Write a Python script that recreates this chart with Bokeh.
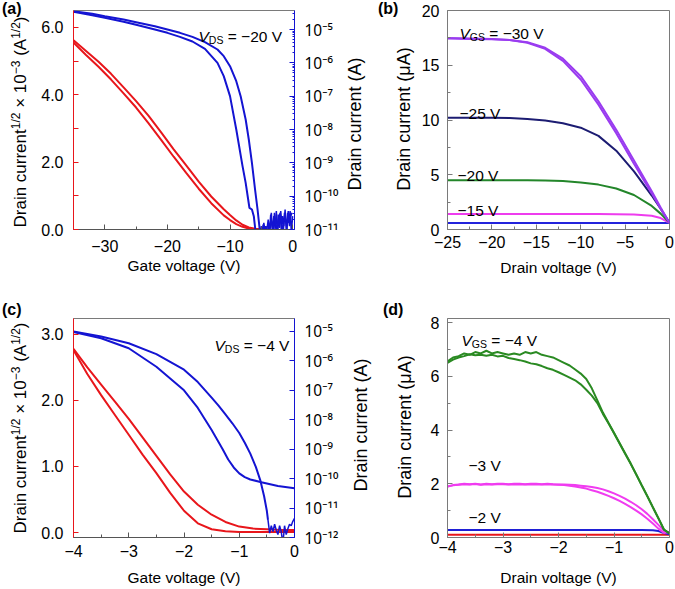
import math
import numpy as np
from bokeh.plotting import figure
from bokeh.layouts import column, row
from bokeh.models import Range1d, LogAxis, LogScale, FixedTicker, CustomJSTickFormatter, Label, Div
from bokeh.embed import file_html
from bokeh.resources import INLINE

FONT = "Liberation Sans"
RED = "#e8161b"
BLUE = "#1414d2"
GREY = "#7a7a7a"

# ---------------- data: panel (a) transfer, VDS = -20 V ----------------
vg_a_red = [-35, -33, -31, -29, -27, -25, -23, -21, -19, -17, -15, -13, -11, -10, -9, -8, -7, -6, -5]
sqrt_a_up = [5.62, 5.30, 4.98, 4.62, 4.22, 3.81, 3.37, 2.88, 2.38, 1.90, 1.42, 0.98, 0.60, 0.43, 0.27, 0.14, 0.06, 0.02, 0.01]
sqrt_a_dn = [5.55, 5.18, 4.83, 4.45, 4.04, 3.62, 3.15, 2.66, 2.16, 1.68, 1.21, 0.78, 0.42, 0.28, 0.16, 0.08, 0.03, 0.01, 0.00]

vg_a_out = [-35, -32, -30, -27, -25, -22, -20, -18, -16, -14, -12, -11, -10, -9, -8.3, -7.5, -7, -6.5, -6, -5.6, -5.2]
exp_a_out = [-4.45, -4.53, -4.60, -4.70, -4.78, -4.90, -5.00, -5.10, -5.22, -5.38, -5.60, -5.80, -6.10, -6.55, -7.00, -7.70, -8.30, -9.00, -9.80, -10.40, -11.10]
vg_a_in = [-35, -32, -30, -27, -25, -22, -20, -18, -16, -14, -12, -11, -10, -9, -8, -7.5, -7.1, -6.9, -6.5, -6.2, -5.9]
exp_a_in = [-4.47, -4.57, -4.65, -4.77, -4.86, -5.00, -5.10, -5.22, -5.36, -5.58, -6.00, -6.40, -7.00, -8.00, -9.10, -9.60, -10.10, -10.35, -10.40, -10.60, -11.10]

vg_a_noise1 = [-5.2, -5.0, -4.8, -4.6, -4.4, -4.2, -4.0, -3.8, -3.6, -3.4, -3.2, -3.0, -2.8, -2.6, -2.4,
               -2.2, -2.0, -1.8, -1.6, -1.4, -1.2, -1.0, -0.8, -0.6, -0.4, -0.2, 0.0]
exp_a_noise1 = [-11.1, -10.9, -11.1, -10.8, -11.05, -10.95, -11.1, -10.9, -11.0, -10.5, -11.1, -10.6, -11.0, -10.45,
                -11.1, -10.7, -10.5, -11.05, -10.6, -10.9, -10.4, -11.1, -10.5, -10.8, -10.45, -11.1, -10.6]
vg_a_noise2 = [-5.1, -4.9, -4.7, -4.5, -4.3, -4.1, -3.9, -3.7, -3.5, -3.3, -3.1, -2.9, -2.7, -2.5, -2.3,
               -2.1, -1.9, -1.7, -1.5, -1.3, -1.1, -0.9, -0.7, -0.5, -0.3, -0.1]
exp_a_noise2 = [-11.0, -11.15, -10.85, -11.1, -10.9, -11.0, -10.7, -11.1, -10.55, -10.9, -11.1, -10.5, -10.8,
                -11.1, -10.55, -10.95, -10.45, -10.85, -11.1, -10.5, -10.75, -11.0, -10.45, -10.9, -10.6, -10.5]

# ---------------- data: panel (b) output, VGS = -30 ... -10 V ----------------
vd_b = [-25, -22.5, -20, -18, -16, -14, -12, -10, -8, -6, -4, -2, -1, 0]
id_b_30a = [17.5, 17.45, 17.4, 17.3, 17.05, 16.5, 15.4, 13.7, 11.4, 8.8, 6.0, 3.3, 1.9, 0.6]
id_b_30b = [17.45, 17.4, 17.38, 17.3, 17.1, 16.6, 15.6, 14.0, 11.7, 9.1, 6.3, 3.5, 2.0, 0.6]
id_b_25 = [10.2, 10.2, 10.2, 10.18, 10.1, 9.95, 9.7, 9.3, 8.55, 7.2, 5.3, 3.1, 1.9, 0.6]
id_b_20 = [4.5, 4.5, 4.5, 4.5, 4.5, 4.48, 4.42, 4.3, 4.1, 3.75, 3.15, 2.15, 1.45, 0.6]
id_b_15 = [1.42, 1.42, 1.42, 1.42, 1.42, 1.42, 1.42, 1.42, 1.41, 1.4, 1.37, 1.25, 1.05, 0.6]
id_b_10 = [0.6, 0.6, 0.6, 0.6, 0.6, 0.6, 0.6, 0.6, 0.6, 0.6, 0.6, 0.6, 0.6, 0.6]

# ---------------- data: panel (c) transfer, VDS = -4 V ----------------
vg_c_red = [-4.0, -3.75, -3.5, -3.25, -3.0, -2.75, -2.5, -2.25, -2.0, -1.75, -1.5, -1.25, -1.0, -0.75, -0.5, -0.25, 0.0]
sqrt_c_up = [2.78, 2.50, 2.24, 1.98, 1.72, 1.44, 1.16, 0.88, 0.62, 0.42, 0.27, 0.16, 0.09, 0.06, 0.05, 0.04, 0.04]
sqrt_c_dn = [2.76, 2.40, 2.08, 1.78, 1.48, 1.18, 0.90, 0.60, 0.33, 0.14, 0.05, 0.02, 0.01, 0.01, 0.01, 0.01, 0.01]

vg_c_steep = [-4.0, -3.5, -3.0, -2.5, -2.0, -1.75, -1.5, -1.375, -1.25, -1.125, -1.0, -0.9, -0.8, -0.7, -0.62, -0.55, -0.5, -0.48]
exp_c_steep = [-5.0, -5.17, -5.4, -5.77, -6.3, -6.72, -7.25, -7.52, -7.82, -8.12, -8.45, -8.78, -9.15, -9.6, -10.05, -10.6, -11.1, -11.4]
vg_c_noise = [-0.48, -0.45, -0.42, -0.39, -0.36, -0.33, -0.30, -0.27, -0.24, -0.21, -0.18, -0.15, -0.12, -0.09, -0.06, -0.03, 0.0]
exp_c_noise = [-11.4, -11.85, -11.6, -11.8, -11.55, -11.75, -11.9, -11.6, -11.8, -12.2, -11.6, -11.9, -11.7, -11.55, -11.6, -11.45, -11.35]
vg_c_plat = [-4.0, -3.5, -3.0, -2.5, -2.0, -1.75, -1.5, -1.3, -1.2, -1.1, -1.0, -0.9, -0.8, -0.6, -0.3, 0.0]
exp_c_plat = [-5.02, -5.23, -5.57, -6.2, -7.0, -7.6, -8.35, -9.0, -9.35, -9.62, -9.82, -9.95, -10.03, -10.12, -10.25, -10.33]

# ---------------- data: panel (d) output, VGS = -4 ... -1 V ----------------
vd_d = [-4.0, -3.9, -3.8, -3.7, -3.6, -3.5, -3.4, -3.3, -3.2, -3.1, -3.0, -2.9, -2.8, -2.7, -2.6, -2.5, -2.4, -2.3,
        -2.2, -2.1, -2.0, -1.9, -1.8, -1.7, -1.6, -1.5, -1.4, -1.3, -1.2, -1.1, -1.0, -0.9, -0.8, -0.7, -0.6, -0.5,
        -0.4, -0.3, -0.2, -0.1, 0.0]
id_d_4a = [6.55, 6.70, 6.75, 6.85, 6.80, 6.90, 6.85, 6.95, 6.85, 6.90, 6.85, 6.80, 6.85, 6.80, 6.90, 6.85, 6.90, 6.80,
           6.75, 6.70, 6.60, 6.50, 6.40, 6.25, 6.10, 5.90, 5.55, 5.10, 4.65, 4.27, 3.90, 3.52, 3.14, 2.76, 2.36, 1.95,
           1.55, 1.13, 0.72, 0.30, 0.15]
id_d_4b = [6.50, 6.62, 6.70, 6.75, 6.82, 6.78, 6.80, 6.76, 6.80, 6.74, 6.76, 6.68, 6.64, 6.60, 6.55, 6.48, 6.45, 6.38,
           6.30, 6.24, 6.15, 6.05, 5.95, 5.85, 5.70, 5.50, 5.28, 5.00, 4.60, 4.25, 3.88, 3.50, 3.12, 2.74, 2.34, 1.93,
           1.53, 1.12, 0.71, 0.29, 0.15]
id_d_3a = [1.90, 1.95, 1.97, 2.00, 1.98, 2.00, 1.97, 2.00, 1.98, 2.00, 2.00, 1.98, 2.00, 2.00, 1.98, 2.00, 2.00, 1.98,
           2.00, 1.98, 1.97, 1.97, 1.96, 1.95, 1.93, 1.91, 1.88, 1.84, 1.79, 1.72, 1.64, 1.55, 1.45, 1.33, 1.20, 1.05,
           0.88, 0.68, 0.47, 0.25, 0.18]
id_d_3b = [1.90, 1.94, 1.96, 1.98, 1.97, 1.99, 1.96, 1.98, 1.97, 1.98, 1.98, 1.97, 1.98, 1.97, 1.97, 1.98, 1.97, 1.97,
           1.98, 1.97, 1.96, 1.95, 1.93, 1.90, 1.86, 1.82, 1.76, 1.70, 1.63, 1.55, 1.46, 1.36, 1.25, 1.13, 1.00, 0.86,
           0.70, 0.52, 0.33, 0.17, 0.20]
vd_d_low = [-4.0, -3.0, -2.0, -1.0, -0.5, -0.3, -0.2, -0.1, 0.0]
id_d_2 = [0.28, 0.28, 0.28, 0.28, 0.28, 0.27, 0.24, 0.17, 0.12]
id_d_1 = [0.10, 0.10, 0.10, 0.10, 0.10, 0.10, 0.10, 0.10, 0.10]

# ---------------- tick labels ----------------
ticks_a_x = [-30, -20, -10, 0]
ticks_a_y = [0, 2, 4, 6]
ticks_b_x = [-25, -20, -15, -10, -5, 0]
ticks_b_y = [0, 5, 10, 15, 20]
ticks_c_x = [-4, -3, -2, -1, 0]
ticks_c_y = [0, 1, 2, 3]
ticks_d_y = [0, 2, 4, 6, 8]

# ---------------- helpers ----------------
WID = {" ": 278, "(": 333, ")": 333, "/": 278, "×": 584, "−": 584, "=": 584, ".": 278,
       "A": 667, "D": 722, "S": 667, "V": 667, "G": 778}


def tw(s, size):
    return sum(WID.get(ch, 556) for ch in s) / 1000.0 * size


def lab(p, text, x, y, size, angle=0.0, align="left", baseline="alphabetic", style="normal", color="black"):
    p.add_layout(Label(x=x, y=y, x_units="screen", y_units="screen", text=text, angle=angle,
                       text_align=align, text_baseline=baseline, text_font=FONT,
                       text_font_size=f"{size}px", text_font_style=style, text_color=color))


def rich(p, pieces, x, y):
    adv = 0.0
    for text, size, rise, style in pieces:
        stripped = text.lstrip(" ")
        adv += tw(text[:len(text) - len(stripped)], size)
        lab(p, stripped, x + adv, y + rise, size, style=style)
        adv += tw(stripped, size)


def subscript_label(p, x, y, var, sub, rest):
    rich(p, [(var, 15.5, 0, "italic"), (sub, 10.5, -3.5, "normal"), (rest, 15.5, 0, "normal")], x, y)


def minus_fmt(dec=0):
    return CustomJSTickFormatter(code=(
        "const s = Math.abs(tick).toFixed(%d); return (tick < -1e-9 ? '\u2212' : '') + s;" % dec))


LOG_FMT_CODE = """
const m = {"0":"\u2070","1":"\u00b9","2":"\u00b2","3":"\u00b3","4":"\u2074","5":"\u2075",
           "6":"\u2076","7":"\u2077","8":"\u2078","9":"\u2079","-":"\u207b"};
const e = Math.round(Math.log10(tick)).toString();
let s = "10";
for (const c of e) { s += m[c]; }
return s;
"""


def style_axis(ax, color, standoff=6, tick_in=5, minor_in=3):
    ax.axis_line_color = color
    ax.axis_line_width = 1
    ax.major_tick_line_color = color
    ax.minor_tick_line_color = color
    ax.major_tick_in = tick_in
    ax.major_tick_out = 0
    ax.minor_tick_in = minor_in
    ax.minor_tick_out = 0
    ax.major_label_text_font = FONT
    ax.major_label_text_font_size = "16px"
    ax.major_label_text_color = "black"
    ax.major_label_standoff = standoff
    ax.axis_label_text_font = FONT
    ax.axis_label_text_font_size = "15.5px"
    ax.axis_label_text_font_style = "normal"
    ax.axis_label_text_color = "black"


def base_fig(width, height, xr, yr, left, right, top, bottom, extra=None):
    kw = dict(width=width, height=height, x_range=xr, y_range=yr,
              output_backend="svg", toolbar_location=None,
              min_border_left=left, min_border_right=right, min_border_top=top, min_border_bottom=bottom)
    if extra is not None:
        kw["extra_y_ranges"] = {"log": extra}
        kw["extra_y_scales"] = {"log": LogScale()}
    p = figure(**kw)
    p.xgrid.visible = False
    p.ygrid.visible = False
    p.background_fill_color = "white"
    p.border_fill_color = "white"
    p.outline_line_color = GREY
    p.outline_line_width = 1
    return p


def transfer_panel(height, xr, yr, logr, top, bottom, xticks, xminor, yticks, yminor,
                   logminor, tick_standoff, label_standoff):
    p = base_fig(304, height, xr, yr, 34, 48, top, bottom, extra=logr)
    style_axis(p.xaxis[0], "#555555", standoff=tick_standoff)
    p.xaxis.ticker = FixedTicker(ticks=xticks, minor_ticks=xminor)
    p.xaxis.formatter = minus_fmt(0)
    p.xaxis.axis_label = "Gate voltage (V)"
    p.xaxis.axis_label_standoff = label_standoff
    style_axis(p.yaxis[0], RED, standoff=10, tick_in=5, minor_in=5)
    p.yaxis.ticker = FixedTicker(ticks=yticks, minor_ticks=yminor)
    p.yaxis.formatter = minus_fmt(1)
    lax = LogAxis(y_range_name="log")
    style_axis(lax, BLUE, standoff=10, tick_in=5, minor_in=2)
    lax.major_label_text_font = "Noto Sans"
    lax.major_label_text_font_size = "15.5px"
    lo = int(round(math.log10(logr.start)))
    hi = int(math.floor(math.log10(logr.end)))
    lax.ticker = FixedTicker(ticks=[10.0 ** k for k in range(lo, hi + 1)],
                             minor_ticks=[m * 10.0 ** k for k in range(lo, hi + 1) for m in logminor])
    lax.formatter = CustomJSTickFormatter(code=LOG_FMT_CODE)
    p.add_layout(lax, "right")
    return p


def output_panel(height, xr, yr, top, bottom, xticks, xminor, yticks, yminor, tick_standoff, label_standoff):
    p = base_fig(260, height, xr, yr, 33, 5, top, bottom)
    style_axis(p.xaxis[0], GREY, standoff=tick_standoff)
    p.xaxis.ticker = FixedTicker(ticks=xticks, minor_ticks=xminor)
    p.xaxis.formatter = minus_fmt(0)
    p.xaxis.axis_label = "Drain voltage (V)"
    p.xaxis.axis_label_standoff = label_standoff
    style_axis(p.yaxis[0], GREY, standoff=8)
    p.yaxis.ticker = FixedTicker(ticks=yticks, minor_ticks=yminor)
    return p


# ---- HTML strips for the texts that sit outside the plot frames ----
def span(x, y, html, size, bold=False, rotated=False):
    st = ("position:absolute; left:%spx; top:%spx; font-family:'Liberation Sans', Arial, sans-serif; "
          "font-size:%spx; line-height:1; white-space:nowrap; color:#000; margin:0; padding:0;" % (x, y, size))
    if bold:
        st += " font-weight:bold;"
    if rotated:
        st += " transform: translate(-50%, -50%) rotate(-90deg);"
    return '<span style="%s">%s</span>' % (st, html)


def strip(w, h, spans):
    html = ('<div style="position:relative; width:%dpx; height:%dpx; overflow:visible; margin:0; padding:0;">'
            % (w, h)) + "".join(spans) + "</div>"
    return Div(text=html, width=w, height=h, margin=(0, 0, 0, 0))


SUP = '<sup style="font-size:12px; vertical-align:6px; line-height:0;">%s</sup>'
SQRT_LABEL = ("Drain current" + SUP % "1/2" + " × 10" + SUP % "−3" + " (A" + SUP % "1/2" + ")")

H1 = 290
H2 = 298

# ---------------- panel (a) ----------------
pa = transfer_panel(H1, Range1d(-35, 0.3), Range1d(0, 6.5), Range1d(1e-11, 10 ** -4.43),
                    10, 61, ticks_a_x, [-35, -25, -15, -5], ticks_a_y, [1, 3, 5],
                    [2, 3, 4, 5, 6, 7, 8, 9], 10, 2)
pa.line(vg_a_red, sqrt_a_up, line_color=RED, line_width=2)
pa.line(vg_a_red, sqrt_a_dn, line_color=RED, line_width=2)
pa.line(vg_a_out, list(10.0 ** np.array(exp_a_out)), y_range_name="log", line_color=BLUE, line_width=2)
pa.line(vg_a_in, list(10.0 ** np.array(exp_a_in)), y_range_name="log", line_color=BLUE, line_width=2)
pa.line(vg_a_noise1, list(10.0 ** np.array(exp_a_noise1)), y_range_name="log", line_color=BLUE, line_width=1.5)
pa.line(vg_a_noise2, list(10.0 ** np.array(exp_a_noise2)), y_range_name="log", line_color=BLUE, line_width=1.5)
subscript_label(pa, 125, 193, "V", "DS", " = −20 V")

# ---------------- panel (b) ----------------
pb = output_panel(H1, Range1d(-25, 0), Range1d(0, 20), 10, 61, ticks_b_x,
                  [-22.5, -17.5, -12.5, -7.5, -2.5], ticks_b_y, [2.5, 7.5, 12.5, 17.5], 6, 8)
pb.line(vd_b, id_b_10, line_color="#2323dc", line_width=2)
pb.line(vd_b, id_b_15, line_color="#ee3cee", line_width=2)
pb.line(vd_b, id_b_20, line_color="#23862a", line_width=2)
pb.line(vd_b, id_b_25, line_color="#1c1c72", line_width=2)
pb.line(vd_b, id_b_30a, line_color="#9a3cf0", line_width=2)
pb.line(vd_b, id_b_30b, line_color="#9a3cf0", line_width=2)
subscript_label(pb, 12, 196, "V", "GS", " = −30 V")
lab(pb, "−25 V", 12, 116, 15.5)
lab(pb, "−20 V", 10, 54, 15.5)
lab(pb, "−15 V", 10, 19, 15.5)

# ---------------- panel (c) ----------------
pc = transfer_panel(H2, Range1d(-4, 0), Range1d(-0.075, 3.24), Range1d(1e-12, 10 ** -4.56),
                    27, 51, ticks_c_x, [-3.5, -2.5, -1.5, -0.5], ticks_c_y, [],
                    [], 7, 9)
pc.line(vg_c_red, sqrt_c_up, line_color=RED, line_width=2)
pc.line(vg_c_red, sqrt_c_dn, line_color=RED, line_width=2)
pc.line(vg_c_steep, list(10.0 ** np.array(exp_c_steep)), y_range_name="log", line_color=BLUE, line_width=2)
pc.line(vg_c_noise, list(10.0 ** np.array(exp_c_noise)), y_range_name="log", line_color=BLUE, line_width=1.5)
pc.line(vg_c_plat, list(10.0 ** np.array(exp_c_plat)), y_range_name="log", line_color=BLUE, line_width=2)
subscript_label(pc, 141, 192, "V", "DS", " = −4 V")

# ---------------- panel (d) ----------------
pd_ = output_panel(H2, Range1d(-4, 0), Range1d(0, 8.15), 28, 51, ticks_c_x,
                   [-3.5, -2.5, -1.5, -0.5], ticks_d_y, [1, 3, 5, 7], 3, 13)
pd_.line(vd_d_low, id_d_1, line_color=RED, line_width=2)
pd_.line(vd_d_low, id_d_2, line_color="#1f1fd6", line_width=2)
pd_.line(vd_d, id_d_3a, line_color="#f03cf0", line_width=2)
pd_.line(vd_d, id_d_3b, line_color="#f03cf0", line_width=2)
pd_.line(vd_d, id_d_4a, line_color="#2a8a22", line_width=2)
pd_.line(vd_d, id_d_4b, line_color="#2a8a22", line_width=2)
subscript_label(pd_, 14, 197, "V", "GS", " = −4 V")
lab(pd_, "−3 V", 21, 72, 15.5)
lab(pd_, "−2 V", 21, 20, 15.5)

# ---------------- outer label strips ----------------
la = strip(38, H1, [span(2, 1, "(a)", 16, bold=True),
                    span(20, 122, SQRT_LABEL, 17, rotated=True)])
mab = strip(72, H1, [span(13, 124, "Drain current (A)", 18, rotated=True),
                     span(36, 1, "(b)", 16, bold=True),
                     span(62, 119, "Drain current (μA)", 18, rotated=True)])
lc = strip(38, H2, [span(2, 12, "(c)", 16, bold=True),
                    span(20, 138, SQRT_LABEL, 17, rotated=True)])
mcd = strip(72, H2, [span(19, 135, "Drain current (A)", 18, rotated=True),
                     span(41, 12, "(d)", 16, bold=True),
                     span(63, 137, "Drain current (μA)", 18, rotated=True)])

layout = column(row(la, pa, mab, pb), row(lc, pc, mcd, pd_))
open("out.html", "w").write(file_html(layout, INLINE))
